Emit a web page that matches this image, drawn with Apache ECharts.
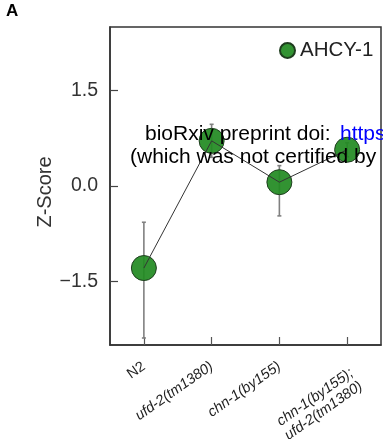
<!DOCTYPE html>
<html><head><meta charset="utf-8">
<script src="https://cdn.jsdelivr.net/npm/echarts@6/dist/echarts.min.js"></script>
<style>html,body{margin:0;padding:0;background:#fff}#c{width:383px;height:439px}</style>
</head><body><div id="c"></div>
<script>
const categories = ['N2', 'ufd-2(tm1380)', 'chn-1(by155)', 'chn-1(by155);\nufd-2(tm1380)'];
const means = [-1.29, 0.71, 0.06, 0.57];
const errLow = [-2.39, 0.45, -0.47, 0.46];
const errHigh = [-0.57, 0.97, 0.32, 0.68];
const yTicks = [-1.5, 0, 1.5];
const seriesName = 'AHCY-1';

const chart = echarts.init(document.getElementById('c'));
const fam = 'Liberation Sans, Arial, sans-serif';
chart.setOption({
  animation: false,
  grid: { left: 110, right: 2, top: 27, bottom: 94, show: true, borderColor: '#333', borderWidth: 1.5, outerBoundsMode: 'none', containLabel: false },
  xAxis: {
    type: 'category', boundaryGap: true,
    data: categories.map((c, i) => i === 3 ? { value: c, textStyle: { verticalAlign: 'top' } } : c),
    axisLine: { show: true, onZero: false, lineStyle: { color: '#333', width: 1.5 } },
    axisTick: { show: true, alignWithLabel: true, inside: true, length: 8, lineStyle: { color: '#555', width: 1.2 } },
    axisLabel: {
      rotate: 35, margin: 20, fontFamily: fam, fontSize: 14.5, color: '#222', interval: 0,
      formatter: function (v) {
        if (v === 'N2') return '{n|N2}';
        return v.split('\n').map(s => '{i|' + s + '}').join('\n');
      },
      rich: { n: { fontStyle: 'normal', fontSize: 14.5, fontFamily: fam, color: '#222' },
              i: { fontStyle: 'italic', fontSize: 14.5, fontFamily: fam, color: '#222', lineHeight: 16 } }
    }
  },
  yAxis: {
    type: 'value', min: -2.5, max: 2.5,
    splitLine: { show: false },
    axisLine: { show: true, onZero: false, lineStyle: { color: '#333', width: 1.5 } },
    axisTick: { show: true, inside: true, length: 8, customValues: yTicks, lineStyle: { color: '#444', width: 1.2 } },
    axisLabel: { customValues: yTicks, fontFamily: fam, fontSize: 19.5, color: '#333', margin: 12,
      formatter: v => (v < 0 ? '\u2212' : '') + Math.abs(v).toFixed(1) }
  },
  legend: {
    data: [{ name: seriesName, icon: 'circle' }],
    left: 279, top: 40, padding: 0, itemWidth: 15, itemHeight: 15, itemGap: 4,
    textStyle: { fontFamily: fam, fontSize: 20.5, color: '#222' }
  },
  graphic: [
    { type: 'text', left: 6, top: 3, style: { text: 'A', fontFamily: fam, fontWeight: 'bold', fontSize: 17, fill: '#000' } },
    { type: 'text', x: 45, y: 192, rotation: Math.PI / 2, style: { text: 'Z-Score', fontFamily: fam, fontSize: 20, fill: '#333', align: 'center', verticalAlign: 'middle' } },
    { type: 'text', left: 145, top: 124, z: 100, style: { text: 'bioRxiv preprint doi: ', fontFamily: fam, fontSize: 21, fill: '#000' } },
    { type: 'text', left: 340, top: 124, z: 100, style: { text: 'https', fontFamily: fam, fontSize: 21, fill: '#0000ff' } },
    { type: 'text', left: 130, top: 147, z: 100, style: { text: '(which was not certified by', fontFamily: fam, fontSize: 21, fill: '#000' } }
  ],
  series: [
    {
      type: 'custom', name: 'err', z: 1, silent: true,
      data: categories.map((c, i) => [i, errLow[i], errHigh[i]]),
      renderItem: function (params, api) {
        const x = api.coord([api.value(0), 0])[0];
        const lo = api.coord([api.value(0), api.value(1)])[1];
        const hi = api.coord([api.value(0), api.value(2)])[1];
        const st = { stroke: '#808080', lineWidth: 1.6 };
        return { type: 'group', children: [
          { type: 'line', shape: { x1: x, y1: lo, x2: x, y2: hi }, style: st },
          { type: 'line', shape: { x1: x - 2, y1: hi, x2: x + 2, y2: hi }, style: st },
          { type: 'line', shape: { x1: x - 2, y1: lo, x2: x + 2, y2: lo }, style: st }
        ] };
      }
    },
    {
      type: 'scatter', name: seriesName, z: 2, data: means, symbol: 'circle', symbolSize: 25,
      itemStyle: { color: 'rgba(34,139,34,0.93)', opacity: 1, borderColor: '#1e3d1e', borderWidth: 1 }
    },
    {
      type: 'line', name: 'conn', z: 3, data: means, showSymbol: false, symbol: 'none', silent: true,
      lineStyle: { color: '#333', width: 1 }
    }
  ]
});
</script></body></html>
